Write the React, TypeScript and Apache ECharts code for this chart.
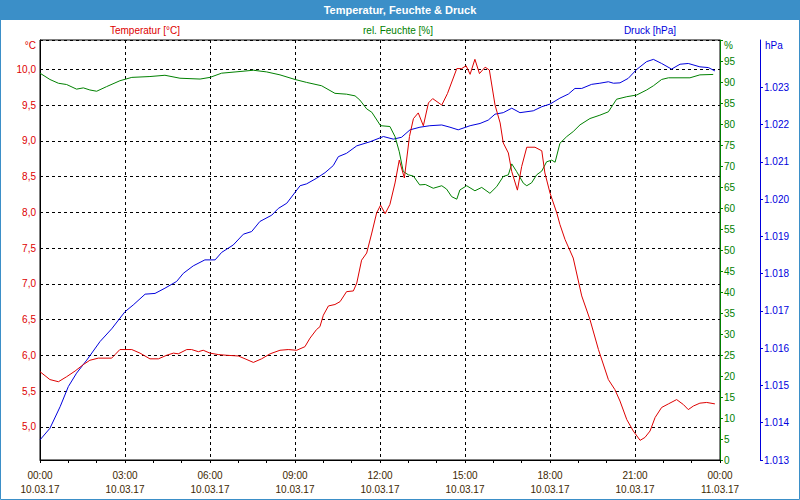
import React, { useEffect, useRef } from 'react';
import * as echarts from 'echarts';

const tempHours = [0, 0.35, 0.65, 0.94, 1.24, 1.53, 1.76, 2.06, 2.53, 2.65, 2.82, 3.24, 3.53, 3.88, 4.18, 4.47, 4.71, 4.88, 5.18, 5.35, 5.59, 5.76, 6.0, 6.29, 6.59, 7.0, 7.24, 7.53, 7.82, 8.12, 8.47, 8.76, 9.06, 9.35, 9.53, 9.76, 9.88, 10.0, 10.18, 10.41, 10.59, 10.82, 11.06, 11.18, 11.35, 11.53, 11.71, 11.88, 12.02, 12.18, 12.35, 12.53, 12.68, 12.86, 13.04, 13.18, 13.35, 13.53, 13.71, 13.86, 14.18, 14.38, 14.71, 14.88, 15.04, 15.18, 15.35, 15.51, 15.71, 15.86, 16.06, 16.24, 16.35, 16.53, 16.65, 16.85, 17.0, 17.18, 17.47, 17.71, 17.82, 18.0, 18.24, 18.35, 18.53, 18.82, 19.12, 19.41, 19.71, 20.06, 20.29, 20.47, 20.71, 20.94, 21.18, 21.35, 21.53, 21.71, 21.94, 22.18, 22.47, 22.71, 22.88, 23.06, 23.29, 23.53, 23.82];
const tempValues = [5.77, 5.66, 5.63, 5.70, 5.78, 5.87, 5.93, 5.96, 5.96, 6.01, 6.08, 6.08, 6.03, 5.95, 5.95, 6.00, 6.03, 6.02, 6.08, 6.08, 6.05, 6.07, 6.03, 6.01, 6.00, 5.99, 5.95, 5.90, 5.95, 6.02, 6.07, 6.08, 6.07, 6.12, 6.24, 6.36, 6.40, 6.56, 6.69, 6.71, 6.75, 6.89, 6.90, 7.01, 7.33, 7.43, 7.71, 7.99, 8.10, 7.98, 8.11, 8.41, 8.73, 8.48, 9.06, 9.31, 9.39, 9.21, 9.53, 9.59, 9.50, 9.66, 10.01, 10.01, 10.05, 9.93, 10.14, 9.94, 10.03, 9.99, 9.50, 9.25, 8.97, 8.83, 8.57, 8.31, 8.64, 8.91, 8.91, 8.86, 8.55, 8.27, 7.99, 7.83, 7.62, 7.36, 6.83, 6.50, 6.08, 5.66, 5.52, 5.36, 5.10, 4.94, 4.81, 4.85, 4.94, 5.13, 5.27, 5.32, 5.38, 5.31, 5.24, 5.29, 5.33, 5.34, 5.32];

const humHours = [0, 0.35, 0.65, 0.94, 1.29, 1.53, 1.76, 2.0, 2.35, 2.82, 3.24, 3.88, 4.41, 4.94, 5.65, 6.0, 6.41, 7.06, 7.53, 8.0, 8.47, 9.0, 9.41, 9.94, 10.41, 10.82, 11.12, 11.29, 11.53, 11.71, 12.02, 12.35, 12.53, 12.68, 12.82, 13.0, 13.18, 13.4, 13.6, 13.88, 14.18, 14.35, 14.53, 14.71, 14.82, 15.06, 15.35, 15.59, 15.88, 16.12, 16.35, 16.53, 16.65, 16.82, 17.06, 17.18, 17.35, 17.53, 17.71, 17.88, 18.06, 18.18, 18.35, 18.59, 18.82, 19.06, 19.41, 19.76, 20.06, 20.35, 20.71, 21.06, 21.41, 21.65, 21.94, 22.18, 22.94, 23.29, 23.76];
const humValues = [92.1, 90.6, 89.7, 89.4, 88.3, 88.6, 88.1, 87.8, 88.9, 90.3, 91.1, 91.3, 91.6, 90.9, 90.7, 91.1, 92.1, 92.5, 92.8, 92.4, 91.7, 90.6, 89.9, 89.1, 87.3, 87.1, 86.7, 85.7, 83.6, 82.8, 79.6, 79.4, 77.0, 73.4, 68.7, 67.9, 67.6, 65.5, 65.6, 64.7, 65.3, 64.5, 62.7, 62.1, 64.3, 65.3, 64.1, 64.9, 63.5, 65.1, 67.5, 67.9, 70.5, 68.7, 65.9, 65.3, 66.0, 67.9, 68.8, 71.0, 71.4, 70.9, 75.4, 77.0, 78.2, 79.8, 81.3, 82.1, 82.9, 85.9, 86.5, 86.9, 88.1, 89.1, 90.6, 91.0, 91.0, 91.7, 91.8];

const presHours = [0, 0.35, 0.71, 1.0, 1.29, 1.65, 2.12, 2.53, 3.0, 3.29, 3.71, 4.06, 4.41, 4.82, 5.06, 5.41, 5.82, 6.18, 6.41, 6.82, 7.18, 7.47, 7.76, 8.18, 8.41, 8.71, 9.18, 9.41, 9.76, 10.06, 10.35, 10.53, 10.82, 11.18, 11.65, 12.12, 12.47, 12.76, 13.06, 13.41, 13.76, 14.18, 14.47, 14.76, 15.18, 15.53, 15.82, 16.06, 16.35, 16.65, 16.94, 17.41, 17.71, 18.0, 18.35, 18.65, 18.88, 19.12, 19.47, 19.76, 20.06, 20.24, 20.47, 20.76, 21.06, 21.41, 21.65, 21.94, 22.29, 22.59, 22.88, 23.29, 23.59, 23.82];
const presValues = [1013.54, 1013.85, 1014.43, 1014.97, 1015.33, 1015.68, 1016.18, 1016.52, 1016.98, 1017.16, 1017.45, 1017.47, 1017.61, 1017.79, 1018.01, 1018.21, 1018.37, 1018.37, 1018.57, 1018.77, 1019.06, 1019.13, 1019.40, 1019.57, 1019.75, 1019.89, 1020.36, 1020.41, 1020.56, 1020.71, 1020.90, 1021.14, 1021.23, 1021.43, 1021.54, 1021.68, 1021.61, 1021.66, 1021.86, 1021.93, 1021.97, 1021.99, 1021.93, 1021.86, 1021.97, 1022.03, 1022.12, 1022.28, 1022.32, 1022.44, 1022.32, 1022.37, 1022.48, 1022.55, 1022.71, 1022.82, 1022.97, 1022.97, 1023.08, 1023.11, 1023.15, 1023.11, 1023.12, 1023.24, 1023.48, 1023.69, 1023.75, 1023.64, 1023.49, 1023.62, 1023.64, 1023.55, 1023.53, 1023.44];

const presTicks = [1013, 1014, 1015, 1016, 1017, 1018, 1019, 1020, 1021, 1022, 1023];
const dayLabels = ['10.03.17', '11.03.17'];

const TITLE = 'Temperatur, Feuchte & Druck';
const LEGEND = ['Temperatur [°C]', 'rel. Feuchte [%]', 'Druck [hPa]'];

const RED = '#dd0000';
const GREEN = '#008000';
const BLUE = '#0000dd';
const FRAME = '#3b8fc8';
const FONT = 'Liberation Sans, Arial, sans-serif';

const pairs = (h: number[], v: number[]) => h.map((x, i) => [x, v[i]]);

export default function App() {
  const ref = useRef<HTMLDivElement>(null);
  useEffect(() => {
    document.body.style.margin = '0';
    const chart = echarts.init(ref.current!, null, { renderer: 'svg' });
    const fmtHour = (v: number) => {
      const h = Math.round(v) % 24;
      const day = v >= 24 ? dayLabels[1] : dayLabels[0];
      return (h < 10 ? '0' + h : '' + h) + ':00\n' + day;
    };
    chart.setOption({
      animation: false,
      backgroundColor: '#ffffff',
      textStyle: { fontFamily: FONT },
      grid: {
        left: 40, right: 80, top: 40, bottom: 40,
        show: true, borderColor: '#000', borderWidth: 1, backgroundColor: 'transparent',
      },
      xAxis: {
        type: 'value', min: 0, max: 24, interval: 3,
        axisLine: { lineStyle: { color: '#000', width: 1 } },
        axisTick: { show: true, length: 3, lineStyle: { color: '#000' } },
        minorTick: { show: true, splitNumber: 3, length: 3, lineStyle: { color: '#000' } },
        splitLine: { show: true, lineStyle: { color: '#000', type: [3, 3], width: 1 } },
        axisLabel: {
          color: '#402800', fontSize: 10, lineHeight: 14, margin: 8,
          formatter: fmtHour, fontFamily: FONT,
        },
      },
      yAxis: [
        {
          type: 'value', position: 'left', min: 4.535, max: 10.41, splitNumber: 12,
          minInterval: 0.5, maxInterval: 0.5,
          axisLine: { show: true, lineStyle: { color: '#000', width: 1 } },
          axisTick: { show: false },
          splitLine: { show: true, lineStyle: { color: '#000', type: [3, 3], width: 1 } },
          axisLabel: {
            color: RED, fontSize: 10, margin: 4, fontFamily: FONT,
            formatter: (v: number) => {
              const r = Math.round(v * 2) / 2;
              if (Math.abs(r - v) > 1e-6) return '';
              return r.toFixed(1).replace('.', ',');
            },
          },
        },
        {
          type: 'value', position: 'right', offset: 0, min: 0, max: 100, interval: 5,
          axisLine: { show: true, lineStyle: { color: GREEN, width: 1 } },
          axisTick: { show: true, length: 3, lineStyle: { color: GREEN } },
          splitLine: { show: false },
          axisLabel: {
            color: GREEN, fontSize: 10, margin: 4, fontFamily: FONT,
            formatter: (v: number) => (v >= 100 ? '' : String(v)),
          },
        },
        {
          type: 'value', position: 'right', offset: 40, min: 1013, max: 1024.27, interval: 1,
          axisLine: { show: true, lineStyle: { color: BLUE, width: 1 } },
          axisTick: { show: true, length: 3, lineStyle: { color: BLUE }, customValues: presTicks },
          splitLine: { show: false },
          axisLabel: {
            color: BLUE, fontSize: 10, margin: 4, fontFamily: FONT, customValues: presTicks,
            formatter: (v: number) => (v > 1023.5 ? '' : (v / 1000).toFixed(3)),
          },
        },
      ],
      series: [
        {
          type: 'line', name: 'Druck', yAxisIndex: 2, data: pairs(presHours, presValues),
          showSymbol: false, lineStyle: { color: BLUE, width: 1 }, itemStyle: { color: BLUE },
        },
        {
          type: 'line', name: 'Feuchte', yAxisIndex: 1, data: pairs(humHours, humValues),
          showSymbol: false, lineStyle: { color: GREEN, width: 1 }, itemStyle: { color: GREEN },
        },
        {
          type: 'line', name: 'Temperatur', yAxisIndex: 0, data: pairs(tempHours, tempValues),
          showSymbol: false, lineStyle: { color: RED, width: 1 }, itemStyle: { color: RED },
        },
      ],
      graphic: [
        { type: 'rect', shape: { x: 0, y: 0, width: 800, height: 20 }, style: { fill: FRAME }, silent: true },
        { type: 'rect', shape: { x: 0.5, y: 0.5, width: 799, height: 499 }, style: { fill: 'none', stroke: FRAME, lineWidth: 1 }, silent: true },
        { type: 'text', x: 400, y: 10, style: { text: TITLE, fill: '#fff', font: 'bold 11px ' + FONT, align: 'center', verticalAlign: 'middle' } },
        { type: 'text', x: 145, y: 30, style: { text: LEGEND[0], fill: RED, font: '10px ' + FONT, align: 'center', verticalAlign: 'middle' } },
        { type: 'text', x: 398, y: 30, style: { text: LEGEND[1], fill: GREEN, font: '10px ' + FONT, align: 'center', verticalAlign: 'middle' } },
        { type: 'text', x: 650, y: 30, style: { text: LEGEND[2], fill: BLUE, font: '10px ' + FONT, align: 'center', verticalAlign: 'middle' } },
        { type: 'text', x: 36, y: 45, style: { text: '°C', fill: RED, font: '10px ' + FONT, align: 'right', verticalAlign: 'middle' } },
        { type: 'text', x: 724, y: 45, style: { text: '%', fill: GREEN, font: '10px ' + FONT, align: 'left', verticalAlign: 'middle' } },
        { type: 'text', x: 765, y: 45, style: { text: 'hPa', fill: BLUE, font: '10px ' + FONT, align: 'left', verticalAlign: 'middle' } },
      ],
    });
    return () => chart.dispose();
  }, []);
  return <div ref={ref} style={{ width: 800, height: 500 }} />;
}
